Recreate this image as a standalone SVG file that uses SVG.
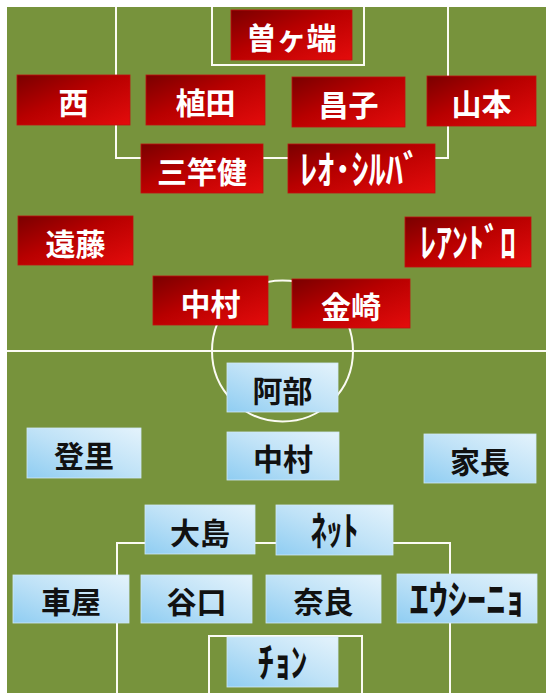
<svg xmlns="http://www.w3.org/2000/svg" width="553" height="700" viewBox="0 0 553 700">
<defs>
<linearGradient id="red" x1="0" y1="0" x2="1" y2="1">
<stop offset="0" stop-color="#7a0000"/>
<stop offset="0.45" stop-color="#b80000"/>
<stop offset="1" stop-color="#e40c0c"/>
</linearGradient>
<linearGradient id="blue" x1="0" y1="1" x2="1" y2="0">
<stop offset="0" stop-color="#8fcdf2"/>
<stop offset="0.5" stop-color="#bfe2f7"/>
<stop offset="1" stop-color="#e4f3fc"/>
</linearGradient>
<style>
.line{fill:none;stroke:#fbfbf3;stroke-width:2}
.r rect{fill:url(#red);stroke:#c01010;stroke-width:0.8}
.b rect{fill:url(#blue);stroke:#cfe8f8;stroke-width:0.8}
text{font-family:"Noto Sans CJK JP","Noto Sans",sans-serif;font-weight:bold;font-size:30px;text-anchor:middle;dominant-baseline:central}
text.h{font-size:40px}
.r text{fill:#ffffff}
.b text{fill:#111111}
</style>
</defs>
<rect x="0" y="0" width="553" height="700" fill="#ffffff"/>
<rect x="7" y="7" width="539" height="686" fill="#77933C"/>
<g id="pitch">
<line class="line" x1="7" y1="351" x2="546" y2="351"/>
<circle class="line" cx="282.5" cy="351" r="70.5"/>
<polyline class="line" points="116,7 116,158 448,158 448,7"/>
<polyline class="line" points="212,7 212,65 364,65 364,7"/>
<polyline class="line" points="117,693 117,543 450,543 450,693"/>
<polyline class="line" points="209,693 209,636 362,636 362,693"/>
</g>
<g id="n-sogahata" class="r"><rect x="231" y="10" width="121" height="50"/><text x="291.5" y="36">曽ヶ端</text></g>
<g id="n-nishi" class="r"><rect x="17" y="75" width="113" height="50"/><text x="73.5" y="101">西</text></g>
<g id="n-ueda" class="r"><rect x="146" y="75" width="119" height="50"/><text x="205.5" y="101">植田</text></g>
<g id="n-shoji" class="r"><rect x="292" y="77" width="113" height="50"/><text x="348.5" y="103">昌子</text></g>
<g id="n-yamamoto" class="r"><rect x="427" y="76" width="109" height="50"/><text x="481.5" y="102">山本</text></g>
<g id="n-misao" class="r"><rect x="141" y="144" width="122" height="49"/><text x="202" y="170">三竿健</text></g>
<g id="n-leosilva" class="r"><rect x="288" y="144" width="147" height="49"/><text class="h" x="360" y="167" textLength="120" lengthAdjust="spacingAndGlyphs">ﾚｵ･ｼﾙﾊﾞ</text></g>
<g id="n-endo" class="r"><rect x="18" y="216" width="115" height="49"/><text x="75.5" y="242">遠藤</text></g>
<g id="n-leandro" class="r"><rect x="405" y="217" width="126" height="50"/><text class="h" x="468" y="240" textLength="96" lengthAdjust="spacingAndGlyphs">ﾚｱﾝﾄﾞﾛ</text></g>
<g id="n-nakamura-r" class="r"><rect x="153" y="276" width="115" height="49"/><text x="210.5" y="302">中村</text></g>
<g id="n-kanazaki" class="r"><rect x="292" y="279" width="118" height="49"/><text x="351" y="305">金崎</text></g>
<g id="n-abe" class="b"><rect x="227" y="363" width="111" height="49"/><text x="282.5" y="389">阿部</text></g>
<g id="n-noborizato" class="b"><rect x="27" y="428" width="114" height="50"/><text x="84" y="454">登里</text></g>
<g id="n-nakamura-b" class="b"><rect x="227" y="432" width="112" height="48"/><text x="283" y="457">中村</text></g>
<g id="n-ienaga" class="b"><rect x="424" y="434" width="112" height="49"/><text x="480" y="460">家長</text></g>
<g id="n-oshima" class="b"><rect x="145" y="505" width="110" height="49"/><text x="200" y="531">大島</text></g>
<g id="n-neto" class="b"><rect x="276" y="505" width="117" height="50"/><text class="h" x="334.5" y="528" textLength="48" lengthAdjust="spacingAndGlyphs">ﾈｯﾄ</text></g>
<g id="n-kurumaya" class="b"><rect x="13" y="575" width="116" height="48"/><text x="71" y="600">車屋</text></g>
<g id="n-taniguchi" class="b"><rect x="141" y="575" width="111" height="48"/><text x="196.5" y="600">谷口</text></g>
<g id="n-nara" class="b"><rect x="266" y="575" width="115" height="48"/><text x="323.5" y="600">奈良</text></g>
<g id="n-elsinho" class="b"><rect x="397" y="574" width="140" height="49"/><text class="h" x="467" y="597" textLength="115" lengthAdjust="spacingAndGlyphs">ｴｳｼｰﾆｮ</text></g>
<g id="n-jung" class="b"><rect x="227" y="637" width="111" height="50"/><text class="h" x="282.5" y="660" textLength="50" lengthAdjust="spacingAndGlyphs">ﾁｮﾝ</text></g>
</svg>
